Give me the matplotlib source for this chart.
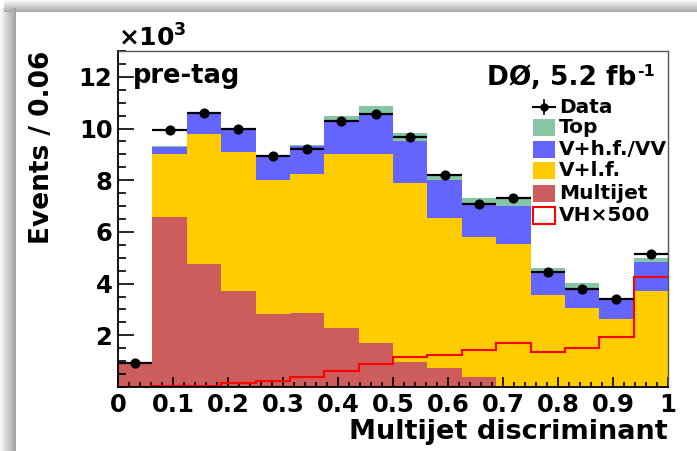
import numpy as np
import matplotlib
matplotlib.use('Agg')
import matplotlib.pyplot as plt
from matplotlib.patches import Rectangle
from matplotlib.ticker import MultipleLocator, FixedLocator

plt.rcParams['font.family'] = ['DejaVu Sans']
plt.rcParams['font.weight'] = 'bold'
plt.rcParams['mathtext.default'] = 'bf'

# 16 bins over the discriminant range, yields in units of 10^3 events
edges = np.linspace(0.0, 1.0, 17)
multijet = [0.88, 6.56, 4.75, 3.71, 2.82, 2.86, 2.28, 1.70, 0.97, 0.73, 0.39, 0.0, 0.0, 0.0, 0.0, 0.0]
v_lf = [0.04, 2.47, 5.02, 5.40, 5.17, 5.40, 6.75, 7.32, 6.92, 5.82, 5.40, 5.52, 3.55, 3.04, 2.64, 3.71]
v_hf = [0.01, 0.27, 0.78, 0.89, 0.89, 1.06, 1.31, 1.57, 1.61, 1.44, 1.33, 1.48, 0.90, 0.77, 0.75, 1.13]
top = [0.01, 0.02, 0.07, 0.02, 0.02, 0.06, 0.16, 0.27, 0.32, 0.26, 0.19, 0.35, 0.17, 0.22, 0.05, 0.16]
data = [0.93, 9.95, 10.60, 9.98, 8.92, 9.19, 10.28, 10.55, 9.69, 8.22, 7.09, 7.32, 4.45, 3.80, 3.39, 5.16]
vh500 = [0.0, 0.02, 0.05, 0.17, 0.23, 0.40, 0.63, 0.89, 1.17, 1.24, 1.43, 1.69, 1.36, 1.49, 1.94, 4.24]

components = [
    ('Multijet', multijet, '#cd5c5c'),
    ('V+l.f.', v_lf, '#ffcc00'),
    ('V+h.f./VV', v_hf, '#6464ff'),
    ('Top', top, '#86c6a4'),
]

fig = plt.figure(figsize=(6.97, 4.51), dpi=100)

# panel shadow along the left and top edges
H, W = 451, 697
xs = np.arange(W)[None, :]
ys = np.arange(H)[:, None]
left = np.where((xs < 16) & (ys >= 8), 0.97 - 0.33 * np.clip(xs, 0, 15) / 15, 1.0)
upper = np.where((ys < 12) & (xs >= 4), 0.97 - 0.30 * np.clip(ys, 0, 11) / 11, 1.0)
shade = np.minimum(left, upper)
bg = fig.add_axes([0, 0, 1, 1], zorder=-1)
bg.imshow(shade, cmap='gray', vmin=0, vmax=1, aspect='auto', interpolation='bilinear')
bg.axis('off')

ax = fig.add_axes([118 / 697, 64 / 451, 550 / 697, 336 / 451])
ax.patch.set_alpha(0)

bottom = np.zeros(len(edges) - 1)
for name, vals, color in components:
    upper_edge = bottom + np.array(vals)
    ax.stairs(upper_edge, edges, baseline=bottom.copy(), fill=True, color=color, lw=0, zorder=1)
    bottom = upper_edge

ax.stairs(vh500, edges, baseline=None, color='#ff0000', lw=1.5, zorder=2)

centers = 0.5 * (edges[:-1] + edges[1:])
half = 0.5 * np.diff(edges)
ax.errorbar(centers, data, xerr=half, fmt='o', color='black', ms=6.3, elinewidth=1.6,
            capsize=0, zorder=3)

ax.set_xlim(0, 1)
ax.set_ylim(0, 13)
ax.xaxis.set_minor_locator(MultipleLocator(0.02))
ax.yaxis.set_major_locator(FixedLocator([2, 4, 6, 8, 10, 12]))
ax.yaxis.set_minor_locator(MultipleLocator(0.5))
ax.set_xticks(np.arange(0, 1.01, 0.1))
ax.set_xticklabels(['0', '0.1', '0.2', '0.3', '0.4', '0.5', '0.6', '0.7', '0.8', '0.9', '1'])
ax.tick_params(axis='x', which='major', direction='in', length=7, width=1.2, labelsize=17.5, pad=4)
ax.tick_params(axis='x', which='minor', direction='in', length=3.6, width=1.2)
ax.tick_params(axis='y', which='major', direction='in', length=11.5, width=1.2, labelsize=17.5, pad=4)
ax.tick_params(axis='y', which='minor', direction='in', length=5.8, width=1.2)
for side in ('top', 'right'):
    ax.spines[side].set_color('#555555')
    ax.spines[side].set_linewidth(1.0)
for side in ('left', 'bottom'):
    ax.spines[side].set_linewidth(1.3)

ax.set_xlabel('Multijet discriminant', fontsize=19.5, fontweight='bold', loc='right')
ax.xaxis.set_label_coords(1.0, -0.095)
ax.set_ylabel('Events / 0.06', fontsize=19, fontweight='bold', loc='top')
ax.yaxis.set_label_coords(-0.115, 1.0)

ax.text(0.0, 1.012, '×10$^{3}$', transform=ax.transAxes, fontsize=18, va='baseline', ha='left')
ax.text(0.027, 0.905, 'pre-tag', transform=ax.transAxes, fontsize=18.5, va='baseline', ha='left')
ax.text(0.942, 0.899, 'DØ, 5.2 fb', transform=ax.transAxes, fontsize=19, va='baseline', ha='right')
ax.text(0.944, 0.960, '-1', transform=ax.transAxes, fontsize=11.5, va='top', ha='left')

# legend drawn by hand to keep the tight ROOT-style spacing
bx0, bw, bh = 0.7545, 0.04, 0.0506
tx = 0.802
ydata = 0.833
ax.plot([bx0, bx0 + bw], [ydata, ydata], color='black', lw=1.5, transform=ax.transAxes, clip_on=False, zorder=5)
ax.plot([bx0 + bw / 2] * 2, [ydata - 0.02, ydata + 0.02], color='black', lw=1.2, transform=ax.transAxes, clip_on=False, zorder=5)
ax.plot(bx0 + bw / 2, ydata, 'o', color='black', ms=5, transform=ax.transAxes, clip_on=False, zorder=5)
ax.text(tx, ydata, 'Data', transform=ax.transAxes, fontsize=14.5, va='center', ha='left')
legend_rows = [('Top', '#86c6a4', 0.771), ('V+h.f./VV', '#6464ff', 0.708),
               ('V+l.f.', '#ffcc00', 0.643), ('Multijet', '#cd5c5c', 0.577)]
for label, color, yc in legend_rows:
    ax.add_patch(Rectangle((bx0, yc - bh / 2), bw, bh, transform=ax.transAxes, facecolor=color,
                           edgecolor='none', zorder=5))
    ax.text(tx, yc, label, transform=ax.transAxes, fontsize=14.5, va='center', ha='left')
yc = 0.509
ax.add_patch(Rectangle((bx0, yc - bh / 2), bw, bh, transform=ax.transAxes, facecolor='white',
                       edgecolor='#ff0000', lw=1.5, zorder=5))
ax.text(tx, yc, 'VH×500', transform=ax.transAxes, fontsize=14.5, va='center', ha='left')

fig.savefig('out.png', dpi=100, facecolor='white')
